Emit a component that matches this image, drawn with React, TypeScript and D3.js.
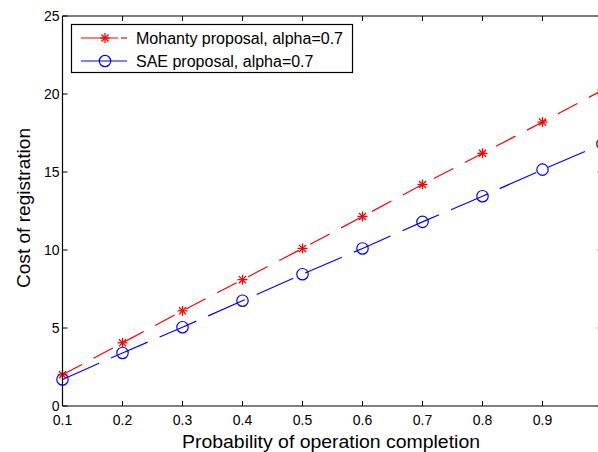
import React from "react";
import * as d3 from "d3";

const xValues = [0.1, 0.2, 0.3, 0.4, 0.5, 0.6, 0.7, 0.8, 0.9, 1.0];
const mohanty = [2.0, 4.05, 6.1, 8.1, 10.1, 12.15, 14.2, 16.2, 18.2, 20.25];
const sae = [1.7, 3.4, 5.05, 6.75, 8.45, 10.1, 11.8, 13.45, 15.15, 16.8];
const xTicks = [0.1, 0.2, 0.3, 0.4, 0.5, 0.6, 0.7, 0.8, 0.9];
const yTicks = [0, 5, 10, 15, 20, 25];
const legendLabels = ["Mohanty proposal, alpha=0.7", "SAE proposal, alpha=0.7"];

const W = 598;
const H = 452;
const FONT = "'Liberation Sans', Arial, sans-serif";

function Star({ cx, cy, r, color }: { cx: number; cy: number; r: number; color: string }) {
  const d = r * 0.7071;
  return (
    <g stroke={color} strokeWidth={1.3}>
      <line x1={cx - r} y1={cy} x2={cx + r} y2={cy} />
      <line x1={cx} y1={cy - r} x2={cx} y2={cy + r} />
      <line x1={cx - d} y1={cy - d} x2={cx + d} y2={cy + d} />
      <line x1={cx - d} y1={cy + d} x2={cx + d} y2={cy - d} />
    </g>
  );
}

export default function App() {
  const x = d3.scaleLinear().domain([0.1, 1.0]).range([62.5, 602.5]);
  const y = d3.scaleLinear().domain([0, 25]).range([406, 16]);
  const left = x(0.1);
  const right = x(1.0);
  const top = y(25);
  const bottom = y(0);

  const line = d3
    .line<number>()
    .x((_, i) => x(xValues[i]))
    .y((v) => y(v));

  const red = "#ff0000";
  const blue = "#0000ff";

  return (
    <svg
      width={W}
      height={H}
      style={{ position: "absolute", left: 0, top: 0, background: "#fff" }}
      fontFamily={FONT}
    >
      <rect x={0} y={0} width={W} height={H} fill="#fff" />
      {/* series */}
      <path d={line(sae) || ""} fill="none" stroke={blue} strokeWidth={1.2} strokeDasharray="40,13" />
      <path d={line(mohanty) || ""} fill="none" stroke={red} strokeWidth={1.2} strokeDasharray="22,13" />
      {sae.map((v, i) => (
        <circle key={"c" + i} cx={x(xValues[i])} cy={y(v)} r={5.7} fill="none" stroke={blue} strokeWidth={1.2} />
      ))}
      {mohanty.map((v, i) => (
        <Star key={"s" + i} cx={x(xValues[i])} cy={y(v)} r={5} color={red} />
      ))}

      {/* axes box */}
      <g stroke="#000" strokeWidth={1.2} fill="none">
        <line x1={left} y1={bottom} x2={right} y2={bottom} />
        <line x1={left} y1={top} x2={right} y2={top} />
        <line x1={left} y1={top} x2={left} y2={bottom} />
        <line x1={right} y1={top} x2={right} y2={bottom} />
      </g>
      {/* ticks */}
      <g stroke="#000" strokeWidth={1}>
        {xTicks.map((t) => (
          <g key={"xt" + t}>
            <line x1={x(t)} y1={bottom} x2={x(t)} y2={bottom - 5} />
            <line x1={x(t)} y1={top} x2={x(t)} y2={top + 5} />
          </g>
        ))}
        {yTicks.map((t) => (
          <g key={"yt" + t}>
            <line x1={left} y1={y(t)} x2={left + 5} y2={y(t)} />
            <line x1={right} y1={y(t)} x2={right - 5} y2={y(t)} />
          </g>
        ))}
      </g>
      {/* tick labels */}
      <g fontSize={14} fill="#000">
        {xTicks.map((t) => (
          <text key={"xl" + t} x={x(t)} y={bottom + 19} textAnchor="middle">
            {d3.format(".1f")(t)}
          </text>
        ))}
        {yTicks.map((t) => (
          <text key={"yl" + t} x={left - 3} y={y(t) + 5} textAnchor="end">
            {t}
          </text>
        ))}
      </g>
      {/* axis labels */}
      <text
        x={182}
        y={447.5}
        fontSize={17.5}
        fill="#000"
        textLength={298}
        lengthAdjust="spacingAndGlyphs"
      >
        Probability of operation completion
      </text>
      <text
        transform={`translate(30,288) rotate(-90)`}
        fontSize={17.5}
        fill="#000"
        textLength={160}
        lengthAdjust="spacingAndGlyphs"
      >
        Cost of registration
      </text>

      {/* legend */}
      <rect x={71.5} y={24.5} width={281} height={48} fill="#fff" stroke="#000" strokeWidth={1.2} />
      <line x1={81} y1={38} x2={118} y2={38} stroke={red} strokeWidth={1.2} />
      <line x1={121} y1={38} x2={127} y2={38} stroke={red} strokeWidth={1.2} />
      <Star cx={105} cy={38} r={5} color={red} />
      <text x={136} y={44} fontSize={16} fill="#000" textLength={207} lengthAdjust="spacingAndGlyphs">
        {legendLabels[0]}
      </text>
      <line x1={81} y1={61} x2={127} y2={61} stroke={blue} strokeWidth={1.2} />
      <circle cx={105} cy={61} r={5.7} fill="none" stroke={blue} strokeWidth={1.2} />
      <text x={136} y={67} fontSize={16} fill="#000">
        {legendLabels[1]}
      </text>
    </svg>
  );
}
